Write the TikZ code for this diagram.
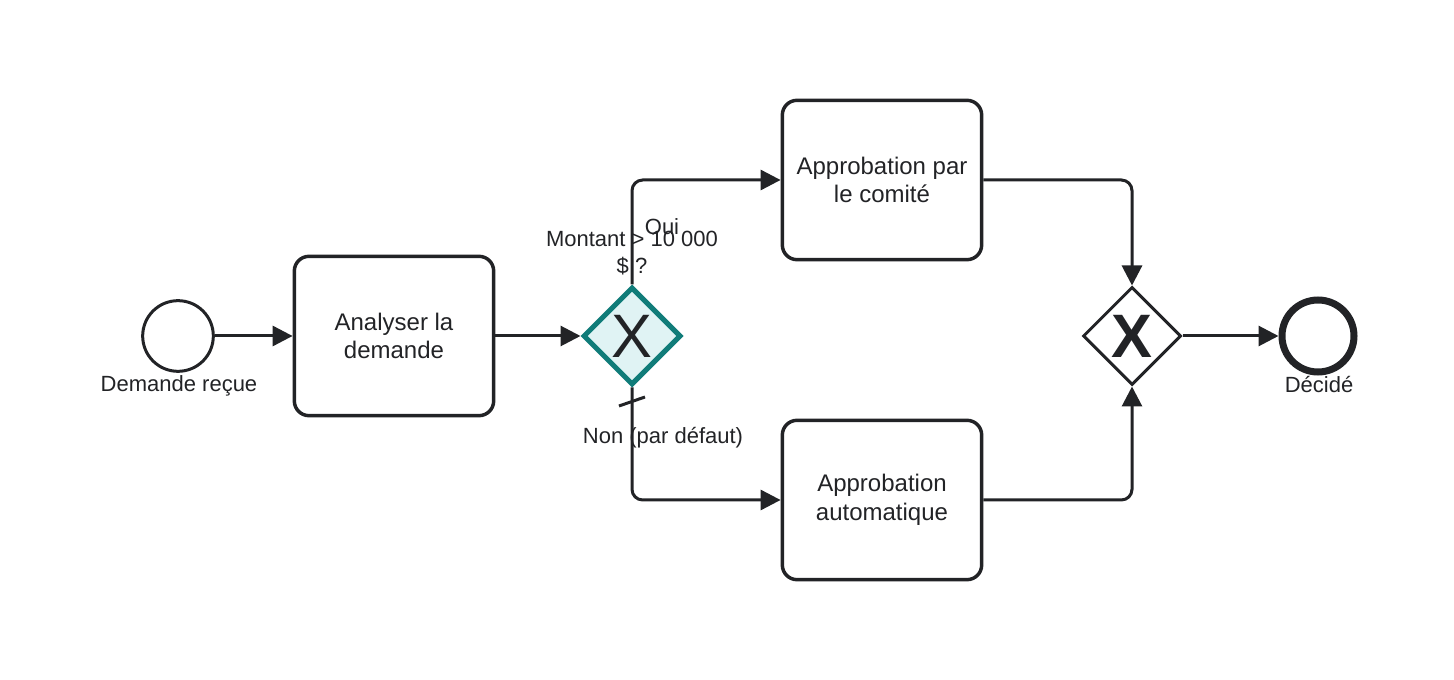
\documentclass[tikz,border=0pt]{standalone}
\usepackage{fontspec}
\setmainfont{Liberation Sans}
\usetikzlibrary{shapes.geometric,arrows.meta}
\definecolor{ink}{HTML}{222326}
\definecolor{gwteal}{HTML}{107C79}
\definecolor{gwfill}{HTML}{E0F3F4}

\begin{document}
\begin{tikzpicture}[x=0.75pt,y=-0.75pt,>={Triangle[length=15pt,width=15pt]},
      line width=2.25pt,draw=ink,text=ink,
      task node/.style={rectangle,draw=ink,rounded corners=11pt,line width=2.6pt,
        minimum width=149.5pt,minimum height=119.5pt,align=center,
        font=\fontsize{18}{21.5}\selectfont},
      event node/.style={circle,draw=ink,minimum size=53pt,inner sep=0pt},
      gate node/.style={diamond,draw=ink,minimum size=73.5pt,inner sep=0pt,
        aspect=1,font=\fontsize{46}{46}\selectfont},
      label node/.style={font=\fontsize{16.5}{20}\selectfont,align=center,inner sep=0pt}]
    \useasboundingbox (0,0) rectangle (1454,680);
    % nodes
    \node[event node] (start) at (178,336) {};
    \node[task node] (analyse) at (394,336) {Analyser la\\demande};
    \node[gate node, draw=gwteal, fill=gwfill, line width=3.75pt] (gw1) at (632,336) {X};
    \node[task node] (comite) at (882,180) {Approbation par\\le comité};
    \node[task node] (auto) at (882,500) {Approbation\\automatique};
    \node[gate node, font=\fontsize{46}{46}\selectfont\bfseries] (gw2) at (1132,336) {X};
    \node[event node, line width=5.25pt, minimum size=54pt] (end) at (1318,336) {};
    % labels
    \node[label node] (lblstart) at (179,386) {Demande reçue};
    \node[label node] (lblend) at (1319,385) {Décidé};
    \node[label node] (lblcond) at (632,253) {Montant > 10 000\\\$ ?};
    \node[label node] (lbloui) at (662,227) {Oui};
    \node[label node] (lblnon) at (663,438) {Non (par défaut)};
    % flows
    \draw[->] (start) -- (analyse);
    \draw[->] (analyse) -- (gw1);
    \draw[->,rounded corners=8pt] (gw1.north) |- (comite);
    \draw[->,rounded corners=8pt] (gw1.south) |- (auto);
    \draw (619,406) -- (645,397);
    \draw[->,rounded corners=8pt] (comite) -| (gw2.north);
    \draw[->,rounded corners=8pt] (auto) -| (gw2.south);
    \draw[->] (gw2) -- (end);
  \end{tikzpicture}
\end{document}
